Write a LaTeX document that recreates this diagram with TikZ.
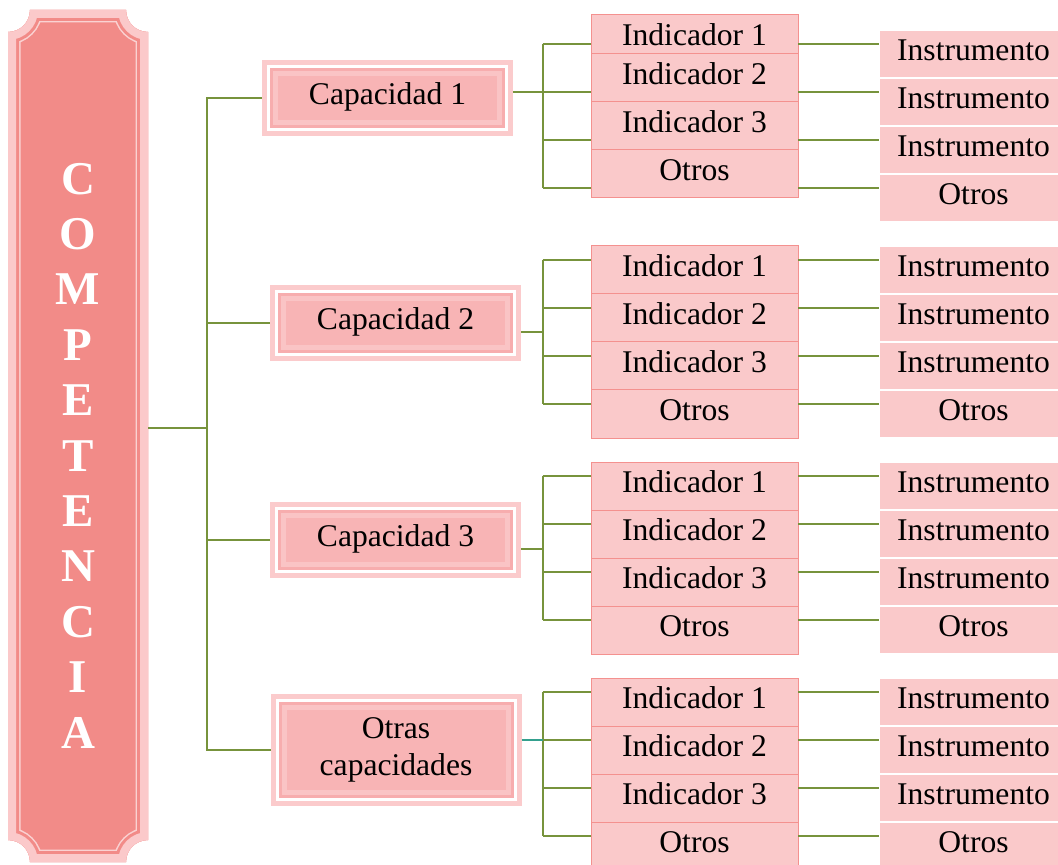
\documentclass[tikz,border=0pt]{standalone}
\usepackage{fontspec}
\setmainfont{Liberation Serif}
\usepackage{xcolor}
\usepackage{tikz}
\definecolor{comp-fg}{HTML}{F28B88}
\definecolor{comp-rim}{HTML}{FBC9CA}
\definecolor{comp-line}{HTML}{FAD2D2}
\definecolor{cap-out}{HTML}{FBCBCC}
\definecolor{cap-band}{HTML}{F7ADAE}
\definecolor{cap-line}{HTML}{FAC4C5}
\definecolor{cap-in}{HTML}{F8B4B5}
\definecolor{ind-fill}{HTML}{FAC9CA}
\definecolor{ind-edge}{HTML}{F4918F}
\definecolor{link-green}{HTML}{77933C}
\definecolor{link-teal}{HTML}{34A08E}
\usetikzlibrary{positioning}

\tikzset{
txt/.style={text height=10.7pt,text depth=4pt,inner sep=0pt,outer sep=0pt},
capbox/.style={fill=cap-in,minimum width=109.5pt,minimum height=22pt,inner sep=0pt,outer sep=8pt,align=center,
  preaction={draw=cap-out,line width=16pt},
  preaction={draw=white,line width=11pt},
  preaction={draw=cap-band,line width=8pt},
  preaction={draw=cap-line,line width=5pt}},
indbox/.style={txt,draw=ind-edge,line width=.5pt,fill=ind-fill,minimum width=103.5pt,minimum height=24pt},
insbox/.style={txt,draw=white,line width=.75pt,fill=ind-fill,minimum width=94.5pt,minimum height=24pt},
link/.style={link-green,line width=1pt}
}
\def\compath{(8,32) arc[start angle=90,end angle=0,radius=22] -- (126,10)
  arc[start angle=180,end angle=90,radius=22] -- (148,840)
  arc[start angle=270,end angle=180,radius=22] -- (30,862)
  arc[start angle=0,end angle=-90,radius=22] -- cycle}

\begin{document}
\begin{tikzpicture}[x=0.5pt,y=-0.5pt,font=\fontsize{15.8}{18.5}\selectfont]
\useasboundingbox (0,0) rectangle (1058,865);
% competencia frame
\fill[comp-fg] \compath;
\begin{scope}
\clip \compath;
\draw[comp-line,line width=12.5pt] \compath;
\draw[comp-fg,line width=11pt] \compath;
\draw[comp-rim,line width=8pt] \compath;
\end{scope}
\node[text=white,font=\fontsize{23.5}{27.7}\selectfont\bfseries,align=center,minimum width=70pt,inner sep=0pt]
  (comp) at (78,455.5) {C\\O\\M\\P\\E\\T\\E\\N\\C\\I\\A};
\path
(387.5,98)  node[txt,capbox] (cap1) {Capacidad 1}
(395.5,323) node[txt,capbox] (cap2) {Capacidad 2}
(395.5,539.5) node[txt,capbox] (cap3) {Capacidad 3}
(396,750)   node[capbox,minimum height=40pt] (cap4) {Otras\\capacidades};
\coordinate (trunk) at (206.5,428);
\draw[link] (comp.east |- trunk) -- (trunk);
\foreach \g/\ti/\hf/\th/\si/\ky/\kc in {1/15/39/15.5pt/30/92/link-green,2/246/48/10.7pt/246/332/link-green,
  3/462/48/10.7pt/462/549/link-green,4/678/48/10.7pt/678/740/link-teal} {
  \draw[link] (trunk) |- (cap\g.west);
  \node[indbox,minimum height={\hf*0.5pt},text height=\th] (i\g1) at (694.5,{\ti+\hf/2}) {Indicador 1};
  \node[indbox,below=0pt of i\g1] (i\g2) {Indicador 2};
  \node[indbox,below=0pt of i\g2] (i\g3) {Indicador 3};
  \node[indbox,below=0pt of i\g3] (i\g4) {Otros};
  \node[insbox] (s\g1) at (973.5,{\si+24}) {Instrumento};
  \node[insbox,below=0pt of s\g1] (s\g2) {Instrumento};
  \node[insbox,below=0pt of s\g2] (s\g3) {Instrumento};
  \node[insbox,below=0pt of s\g3] (s\g4) {Otros};
  \coordinate (b\g) at (542.5,\ky);
  \foreach \k in {1,...,4} {
    \coordinate (r\g\k) at ([yshift=5pt]s\g\k.west);
    \draw[link] (b\g |- r\g\k) -- (i\g\k.west |- r\g\k);
    \draw[link] (i\g\k.east |- r\g\k) -- (r\g\k);
  }
  \draw[link] (b\g |- r\g1) -- (b\g |- r\g4);
  \draw[link,\kc] (cap\g.east |- b\g) -- (b\g);
}
\end{tikzpicture}
\end{document}
